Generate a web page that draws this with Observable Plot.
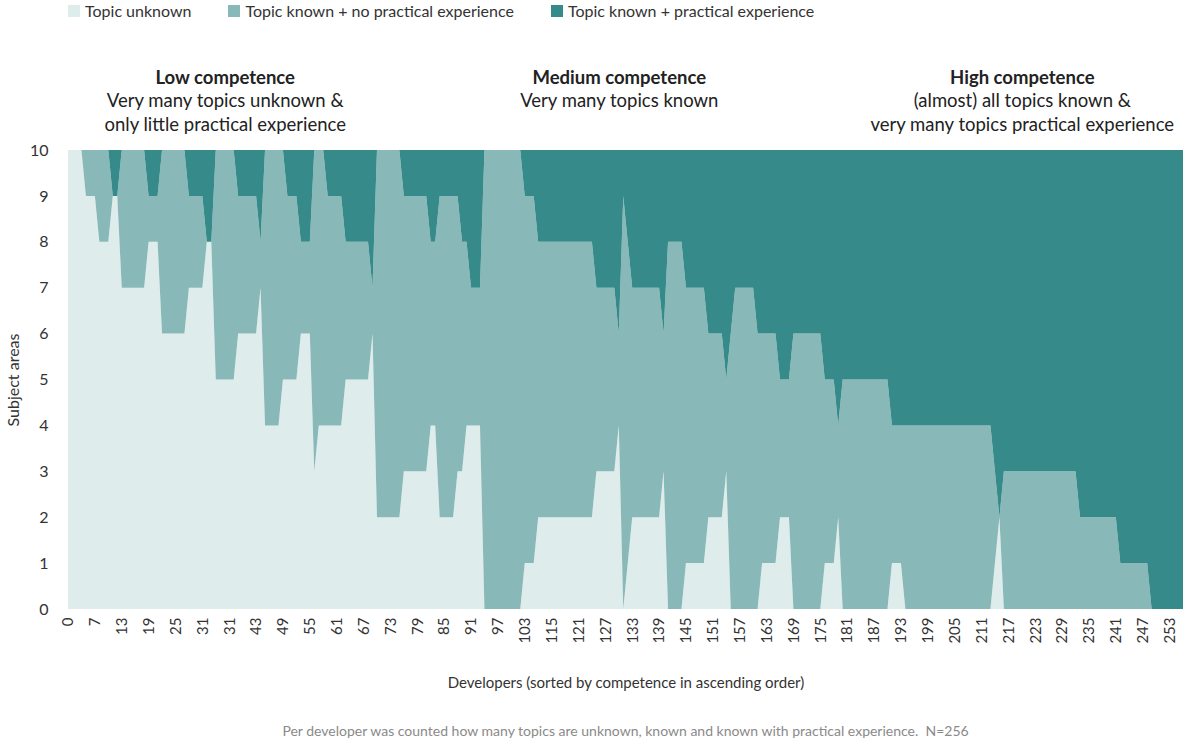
<!DOCTYPE html>
<html>
<head>
<meta charset="utf-8">
<script src="https://cdn.jsdelivr.net/npm/d3@7"></script>
<script src="https://cdn.jsdelivr.net/npm/@observablehq/plot@0.6"></script>
<style>
  body { margin: 0; background: #fff; font-family: Lato, "Noto Sans", sans-serif; color: #333; }
  #wrap { position: relative; width: 1183px; height: 742px; overflow: hidden; }
  #legend { position: absolute; left: 68px; top: 1px; display: flex; font-size: 16px; color: #333; }
  #legend .item { display: flex; align-items: center; margin-right: 37px; }
  #legend .sw { width: 12px; height: 12px; margin-right: 5px; }
  #caption { position: absolute; left: 68px; width: 1115px; top: 722px; text-align: center; font-size: 14px; color: #8a8a8a; }
</style>
</head>
<body>
<div id="wrap">
  <div id="chart"></div>
  <div id="legend"></div>
  <div id="caption"></div>
</div>
<script>
// ---- data ----
const seriesNames = ["Topic unknown", "Topic known + no practical experience", "Topic known + practical experience"];
const seriesColors = ["#deecec", "#88b8b7", "#368a89"];

// number of subject areas per developer (250 developers, sorted by competence)
const unknown = [
  10,10,10,10,9,9,9,8,8,8,9,9,7,7,7,7,7,7,8,8,8,
  6,6,6,6,6,6,7,7,7,7,8,8,5,5,5,5,5,6,6,6,6,6,7,
  4,4,4,4,5,5,5,5,6,6,6,3,4,4,4,4,4,4,5,5,5,5,5,5,6,
  2,2,2,2,2,2,3,3,3,3,3,3,4,4,2,2,2,2,3,3,4,4,4,4,
  0,0,0,0,0,0,0,0,0,1,1,1,2,2,2,2,2,2,2,2,2,2,2,2,2,3,3,3,3,3,4,0,1,
  2,2,2,2,2,2,2,3,0,0,0,0,1,1,1,1,1,2,2,2,2,3,0,0,0,0,0,0,0,1,1,1,1,2,2,2,0,0,0,0,0,0,0,1,1,1,2,
  0,0,0,0,0,0,0,0,0,0,0,1,1,1,
  0,0,0,0,0,0,0,0,0,0,0,0,0,0,0,0,0,0,0,0,
  1,2,
  0,0,0,0,0,0,0,0,0,0,0,0,0,0,0,0,0,0,0,0,0,0,0,0,0,0,0,0,0,0,0,0,0,0,0,0,0,0,0,0,0
];
const knownNoPractice = [
  0,0,0,0,1,1,1,2,2,2,0,0,3,3,3,3,3,3,1,1,1,
  4,4,4,4,4,4,2,2,2,2,0,0,5,5,5,5,5,3,3,3,3,3,1,
  6,6,6,6,5,4,4,4,2,2,2,7,6,6,5,5,5,5,3,3,3,3,3,3,1,
  8,8,8,8,8,8,6,6,6,6,6,6,4,4,7,7,7,7,6,5,4,3,3,3,
  10,10,10,10,10,10,10,10,10,8,8,8,6,6,6,6,6,6,6,6,6,6,6,6,6,4,4,4,4,4,2,9,7,
  5,5,5,5,5,5,5,3,8,8,8,8,6,6,6,6,6,4,4,4,4,2,6,7,7,7,7,7,6,5,5,5,5,3,3,3,6,6,6,6,6,6,6,4,4,4,2,
  5,5,5,5,5,5,5,5,5,5,5,3,3,3,
  4,4,4,4,4,4,4,4,4,4,4,4,4,4,4,4,4,4,4,4,
  2,0,
  3,3,3,3,3,3,3,3,3,3,3,3,3,3,3,3,3,
  2,2,2,2,2,2,2,2,2,
  1,1,1,1,1,1,1,
  0,0,0,0,0,0,0,0
];
const knownPractice = [
  0,0,0,0,0,0,0,0,0,0,1,1,0,0,0,0,0,0,1,1,1,
  0,0,0,0,0,0,1,1,1,1,2,2,0,0,0,0,0,1,1,1,1,1,2,
  0,0,0,0,0,1,1,1,2,2,2,0,0,0,1,1,1,1,2,2,2,2,2,2,3,
  0,0,0,0,0,0,1,1,1,1,1,1,2,2,1,1,1,1,1,2,2,3,3,3,
  0,0,0,0,0,0,0,0,0,1,1,1,2,2,2,2,2,2,2,2,2,2,2,2,2,3,3,3,3,3,4,1,2,
  3,3,3,3,3,3,3,4,2,2,2,2,3,3,3,3,3,4,4,4,4,5,4,3,3,3,3,3,4,4,4,4,4,5,5,5,4,4,4,4,4,4,4,5,5,5,6,
  5,5,5,5,5,5,5,5,5,5,5,
  6,6,6,6,6,6,6,6,6,6,6,6,6,6,6,6,6,6,6,6,6,6,6,
  7,8,
  7,7,7,7,7,7,7,7,7,7,7,7,7,7,7,7,7,
  8,8,8,8,8,8,8,8,8,
  9,9,9,9,9,9,9,
  10,10,10,10,10,10,10,10
];
const tickLabels = ["0","7","13","19","25","31","31","43","49","55","61","67","73","79","85","91","97","103",
  "115","121","127","133","139","145","151","157","163","169","175","181","187","193","199","205","211",
  "217","223","229","235","241","247","253"];
const yTicks = [0,1,2,3,4,5,6,7,8,9,10];
const annotations = [
  {pos: 35,  title: "Low competence",    line1: "Very many topics unknown &",  line2: "only little practical experience"},
  {pos: 123, title: "Medium competence", line1: "Very many topics known",      line2: ""},
  {pos: 213, title: "High competence",   line1: "(almost) all topics known &", line2: "very many topics practical experience"}
];
const xTitle = "Developers (sorted by competence in ascending order)";
const yTitle = "Subject areas";
const caption = "Per developer was counted how many topics are unknown, known and known with practical experience.\u00a0 N=256";

// ---- checks ----
const N = unknown.length;
if (knownNoPractice.length !== N || knownPractice.length !== N)
  throw new Error("length mismatch " + N + " " + knownNoPractice.length + " " + knownPractice.length);
for (let i = 0; i < N; i++) {
  if (unknown[i] + knownNoPractice[i] + knownPractice[i] !== 10) throw new Error("sum mismatch at " + i);
}

// ---- long table ----
const seriesValues = [unknown, knownNoPractice, knownPractice];
const long = [];
seriesNames.forEach((s, k) => seriesValues[k].forEach((v, i) => long.push({i, series: s, value: v})));
const tickPos = tickLabels.map((_, j) => j * 6);

const chart = Plot.plot({
  width: 1183,
  height: 700,
  marginLeft: 68,
  marginRight: 0,
  marginTop: 150,
  marginBottom: 91,
  style: {fontFamily: "Lato, 'Noto Sans', sans-serif", fontSize: "16px", color: "#333", background: "transparent"},
  x: {domain: [0, N - 1], axis: null},
  y: {domain: [0, 10], axis: null},
  color: {domain: seriesNames, range: seriesColors},
  marks: [
    Plot.ruleY([10], {stroke: "#d4d4d4"}),
    Plot.areaY(long, {x: "i", y: "value", fill: "series", z: "series"}),
    Plot.axisX(tickPos, {
      tickFormat: d => tickLabels[d / 6], tickRotate: -90, tickSize: 0, tickPadding: 8, fontSize: 15,
      label: xTitle, labelAnchor: "center", labelOffset: 78, labelArrow: "none"
    }),
    Plot.axisY(yTicks, {
      tickSize: 0, tickPadding: 20, fontSize: 16,
      label: yTitle, labelAnchor: "center", labelOffset: 61, labelArrow: "none"
    }),
    Plot.text(annotations, {x: "pos", text: "title", frameAnchor: "top", dy: -80, fontWeight: "bold", fontSize: 18.5, fill: "#222"}),
    Plot.text(annotations, {x: "pos", text: "line1", frameAnchor: "top", dy: -57, fontSize: 18.5, fill: "#222"}),
    Plot.text(annotations, {x: "pos", text: "line2", frameAnchor: "top", dy: -33, fontSize: 18.5, fill: "#222"})
  ]
});
document.getElementById("chart").appendChild(chart);

// ---- legend & caption ----
const legend = document.getElementById("legend");
seriesNames.forEach((s, k) => {
  const it = document.createElement("div");
  it.className = "item";
  const sw = document.createElement("div");
  sw.className = "sw";
  sw.style.background = seriesColors[k];
  const tx = document.createElement("span");
  tx.textContent = s;
  it.appendChild(sw);
  it.appendChild(tx);
  legend.appendChild(it);
});
document.getElementById("caption").textContent = caption;
</script>
</body>
</html>
